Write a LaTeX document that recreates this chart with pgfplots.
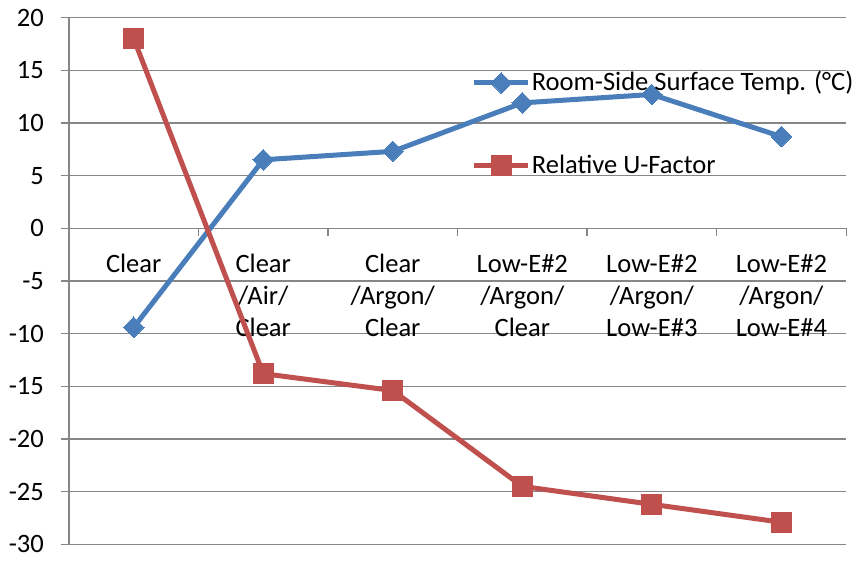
\documentclass[border=0pt]{standalone}
\usepackage{pgfplots}
\pgfplotsset{compat=1.18}
\usepackage{fontspec}
\setmainfont{Carlito}
\definecolor{eblue}{RGB}{74,126,187}
\definecolor{ered}{RGB}{192,80,77}
\definecolor{egrid}{RGB}{134,134,134}
\begin{document}
\fontsize{26.5}{31}\selectfont
\begin{tikzpicture}
\begin{axis}[
  scale only axis,
  width=776pt, height=526pt,
  xmin=-0.5, xmax=5.5,
  ymin=-30, ymax=20,
  axis y line=left,
  axis x line=middle,
  axis line style={egrid, line width=1.3pt, -},
  ytick={-30,-25,...,20},
  ymajorgrids,
  grid style={egrid, line width=1.3pt},
  y tick style={egrid, line width=1.3pt},
  major tick length=8pt,
  tick align=outside,
  xtick={0,1,2,3,4,5},
  x tick style={draw=none},
  xticklabels={Clear, Clear\\/Air/\\Clear, Clear\\/Argon/\\Clear, Low-E\#2\\/Argon/\\Clear, Low-E\#2\\/Argon/\\Low-E\#3, Low-E\#2\\/Argon/\\Low-E\#4},
  xticklabel style={align=center, anchor=north, yshift=-9pt, font=\fontsize{26.5}{32}\selectfont},
  extra x ticks={0.5,1.5,2.5,3.5,4.5,5.5},
  extra x tick labels={},
  extra x tick style={x tick style={draw=egrid, line width=1.3pt}, tick align=outside, grid=none},
  yticklabel style={font=\fontsize{26.5}{31}\selectfont, xshift=-8pt},
  /pgf/number format/assume math mode=true,
  legend style={draw=none, fill=none, at={(0.518,0.7975)}, anchor=west, inner sep=0pt,
    row sep=58pt, font=\fontsize{26.5}{31}\selectfont,
    nodes={inner sep=1pt, anchor=west}},
  legend cell align=left,
  legend image code/.code={\draw[mark repeat=2, mark phase=2] plot coordinates {(0pt,0pt) (27pt,0pt) (54pt,0pt)};},
  clip=false,
]
\addplot[eblue, line width=5pt, mark=square*, mark size=7.3pt, mark options={rotate=45, line width=0pt, fill=eblue}]
  coordinates {(0,-9.4) (1,6.5) (2,7.3) (3,11.9) (4,12.7) (5,8.7)};
\addlegendentry{Room-Side Surface Temp. (°C)}
\addplot[ered, line width=5pt, mark=square*, mark size=10pt, mark options={line width=0pt, fill=ered}]
  coordinates {(0,18.0) (1,-13.8) (2,-15.4) (3,-24.5) (4,-26.2) (5,-27.9)};
\addlegendentry{Relative U-Factor}
\end{axis}
\end{tikzpicture}
\end{document}
